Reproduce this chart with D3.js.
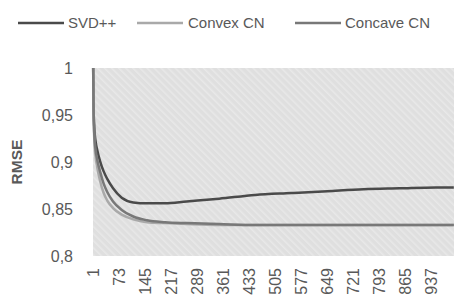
<!DOCTYPE html>
<html><head><meta charset="utf-8">
<script src="https://cdn.jsdelivr.net/npm/d3@7/dist/d3.min.js"></script>
<style>body{margin:0;background:#fff}svg{display:block}</style>
</head><body>
<svg id="chart" width="454" height="300"></svg>
<script>
const seriesNames = ["SVD++", "Convex CN", "Concave CN"];
const seriesColors = ["#4a4a4a", "#a9a9a9", "#787878"];
const iterations = [1, 2, 4, 8, 12, 20, 30, 40, 56, 80, 112, 150, 200, 260, 350, 450, 550, 650, 750, 850, 950, 1000];
const svdpp     = [1.0, 0.96, 0.937, 0.921, 0.913, 0.901, 0.890, 0.882, 0.872, 0.862, 0.857, 0.856, 0.856, 0.858, 0.861, 0.865, 0.867, 0.869, 0.871, 0.872, 0.873, 0.873];
const convexCN  = [1.0, 0.955, 0.925, 0.905, 0.895, 0.880, 0.867, 0.859, 0.851, 0.844, 0.839, 0.836, 0.835, 0.834, 0.833, 0.833, 0.833, 0.833, 0.833, 0.833, 0.833, 0.833];
const concaveCN = [1.0, 0.96, 0.930, 0.912, 0.903, 0.890, 0.877, 0.868, 0.858, 0.849, 0.842, 0.838, 0.836, 0.835, 0.834, 0.833, 0.833, 0.833, 0.833, 0.833, 0.833, 0.833];
const xTickLabels = [1, 73, 145, 217, 289, 361, 433, 505, 577, 649, 721, 793, 865, 937];
const yTicks = [0.8, 0.85, 0.9, 0.95, 1];

const svg = d3.select("#chart");
const font = "'Liberation Sans', Arial, sans-serif";
const L = 93, R = 454, T = 68, B = 256;
const x = d3.scaleLinear().domain([0.5, 1000.5]).range([L, R]);
const y = d3.scaleLinear().domain([0.8, 1]).range([B, T]);

const defs = svg.append("defs");
const pat = defs.append("pattern").attr("id", "hatch").attr("patternUnits", "userSpaceOnUse")
  .attr("width", 5).attr("height", 5).attr("patternTransform", "rotate(-45)");
pat.append("rect").attr("width", 5).attr("height", 5).attr("fill", "#dfdfdf");
pat.append("rect").attr("width", 1.6).attr("height", 5).attr("fill", "#e8e8e8");

svg.append("rect").attr("x", L).attr("y", T).attr("width", R - L).attr("height", B - T).attr("fill", "url(#hatch)");

// y axis labels
const fmt = v => d3.format("~g")(v).replace(".", ",");
svg.append("g").selectAll("text").data(yTicks).join("text")
  .attr("x", 73).attr("y", d => y(d)).attr("dy", "0.35em").attr("text-anchor", "end")
  .attr("font-family", font).attr("font-size", 16).attr("fill", "#595959").text(fmt);

// x axis labels
svg.append("g").selectAll("text").data(xTickLabels).join("text")
  .attr("transform", d => `translate(${x(d)},268) rotate(-90)`)
  .attr("dy", "0.35em").attr("text-anchor", "end")
  .attr("font-family", font).attr("font-size", 16).attr("fill", "#595959").text(d => d);

// axis title
svg.append("text").attr("transform", "translate(17,162) rotate(-90)")
  .attr("text-anchor", "middle").attr("dy", "0.35em")
  .attr("font-family", font).attr("font-size", 15.5).attr("font-weight", "bold").attr("fill", "#595959").text("RMSE");

// lines
const allSeries = [svdpp, convexCN, concaveCN];
const line = d3.line().x(d => x(d[0])).y(d => y(d[1])).curve(d3.curveMonotoneX);
svg.append("g").selectAll("path").data(allSeries).join("path")
  .attr("d", vals => line(iterations.map((it, i) => [it, vals[i]])))
  .attr("fill", "none").attr("stroke", (d, i) => seriesColors[i]).attr("stroke-width", 2.5)
  .attr("stroke-linejoin", "round");

// legend
const legendItems = [{lx: 18, tx: 68}, {lx: 137, tx: 188}, {lx: 295, tx: 345}];
const lg = svg.append("g");
legendItems.forEach((p, i) => {
  lg.append("line").attr("x1", p.lx).attr("x2", p.lx + 46).attr("y1", 23).attr("y2", 23)
    .attr("stroke", seriesColors[i]).attr("stroke-width", 2.5);
  lg.append("text").attr("x", p.tx).attr("y", 23).attr("dy", "0.35em")
    .attr("font-family", font).attr("font-size", 15).attr("fill", "#595959").text(seriesNames[i]);
});
</script>
</body></html>
